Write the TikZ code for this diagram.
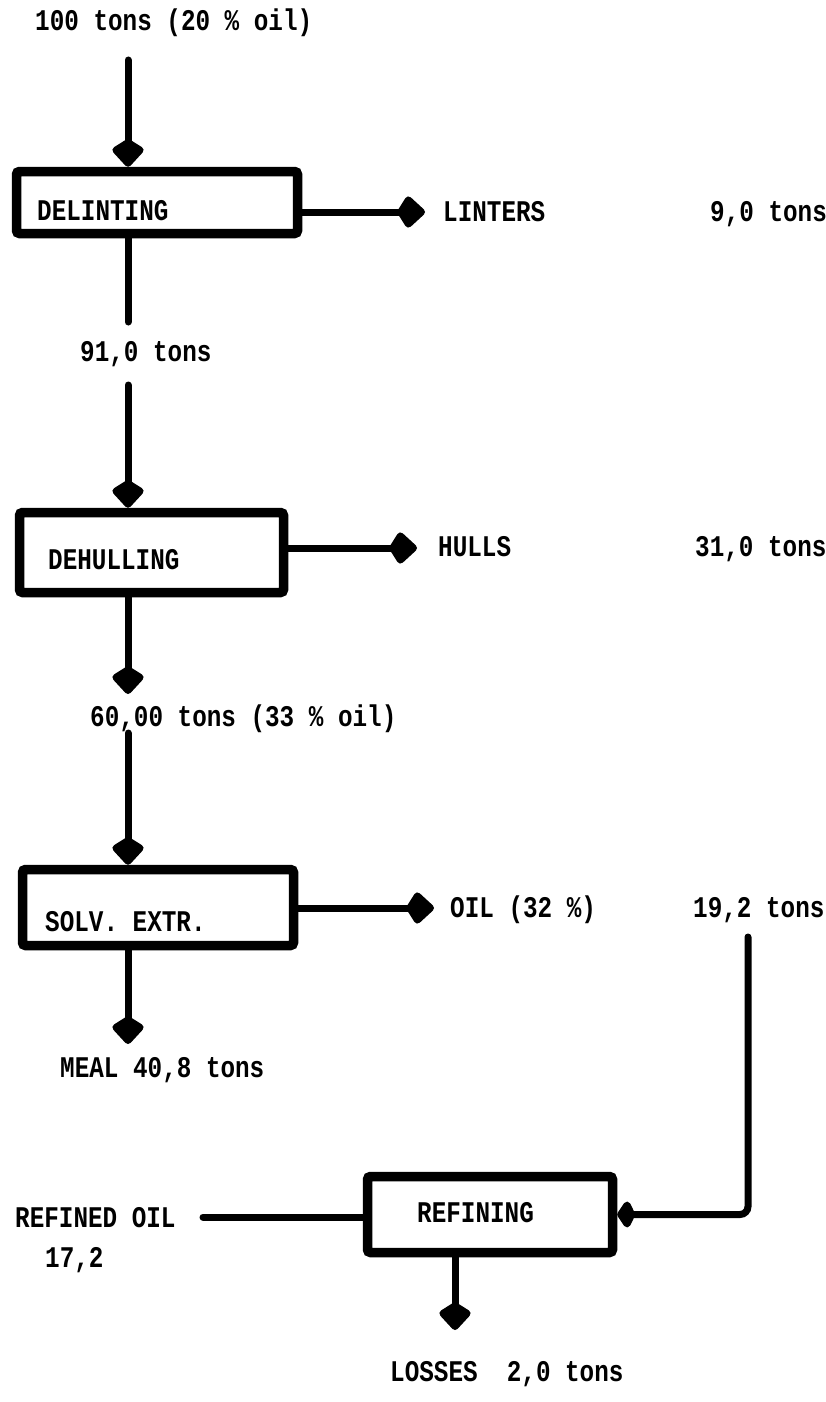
\documentclass[tikz,border=0pt]{standalone}
\usepackage{fontspec}
\usetikzlibrary{arrows.meta}
\newfontfamily\twfont[FakeStretch=0.81]{Liberation Mono}
\tikzset{
  blobarrow/.style={-{Kite[length=30pt,width=35pt,inset=11pt,round]}},
  smallarrow/.style={-{Kite[length=19pt,width=33pt,inset=8pt,round]}},
  procbox/.style={draw, line width=9.5pt, rounded corners=3pt, inner sep=0pt, fill=white},
  txt/.style={inner sep=0pt, anchor=base west, font=\twfont\bfseries\fontsize{30}{30}\selectfont},
  flow/.style={line width=7pt, line cap=round},
}
\begin{document}
\begin{tikzpicture}[x=1pt,y=-1pt]
\fill[white] (0,0) rectangle (826,1402);
\useasboundingbox (0,0) rectangle (826,1402);

% process boxes
\node[procbox, minimum width=281pt, minimum height=62pt] (delint) at (157,202.5) {};
\node[procbox, minimum width=264pt, minimum height=80pt] (dehull) at (151.5,552.5) {};
\node[procbox, minimum width=271pt, minimum height=76pt] (solv) at (158,907.5) {};
\node[procbox, minimum width=245pt, minimum height=76pt] (refine) at (490,1214.5) {};

% box labels
\node[txt] (tdelint) at (37,220) {DELINTING};
\node[txt] (tdehull) at (48,569) {DEHULLING};
\node[txt] (tsolv) at (45,931) {SOLV. EXTR.};
\node[txt] (trefine) at (417,1222) {REFINING};

% stream labels
\node[txt] (tin) at (35,31) {100 tons (20 \% oil)};
\node[txt] (tlint) at (443,221) {LINTERS};
\node[txt] (tlintq) at (710,221) {9,0 tons};
\node[txt] (t91) at (80,361) {91,0 tons};
\node[txt] (thull) at (438,556) {HULLS};
\node[txt] (thullq) at (695,556) {31,0 tons};
\node[txt] (t60) at (90,726) {60,00 tons (33 \% oil)};
\node[txt] (toil) at (450,917) {OIL (32 \%)};
\node[txt] (toilq) at (693,917) {19,2 tons};
\node[txt] (tmeal) at (60,1077) {MEAL 40,8 tons};
\node[txt] (tref) at (15,1227) {REFINED OIL};
\node[txt] (trefq) at (45,1267) {17,2};
\node[txt] (tloss) at (390,1381) {LOSSES\ \ 2,0 tons};

% main line
\coordinate (in0) at (128,60);
\draw[flow,blobarrow] (in0) -- (in0 |- delint.north);
\coordinate (e1) at (128,322);
\draw[flow] (e1 |- delint.south) -- (e1);
\coordinate (s2) at (128,385);
\draw[flow,blobarrow] (s2) -- (s2 |- dehull.north);
\coordinate (e2) at (128,694);
\draw[flow,blobarrow] (e2 |- dehull.south) -- (e2);
\coordinate (s3) at (128,733);
\draw[flow,blobarrow] (s3) -- (s3 |- solv.north);
\coordinate (e3) at (128,1044);
\draw[flow,blobarrow] (e3 |- solv.south) -- (e3);

% side streams
\coordinate (lt) at (425,212);
\draw[flow,blobarrow] (lt -| delint.east) -- (lt);
\coordinate (hl) at (417,548);
\draw[flow,blobarrow] (hl -| dehull.east) -- (hl);
\coordinate (ol) at (434,908);
\draw[flow,blobarrow] (ol -| solv.east) -- (ol);

% refining
\coordinate (rs) at (748,937);
\draw[flow,smallarrow,rounded corners=8pt] (rs) |- (refine.east);
\coordinate (ro) at (203,1217);
\draw[flow] (ro -| refine.west) -- (ro);
\coordinate (ls) at (455,1330);
\draw[flow,blobarrow] (ls |- refine.south) -- (ls);
\end{tikzpicture}
\end{document}
